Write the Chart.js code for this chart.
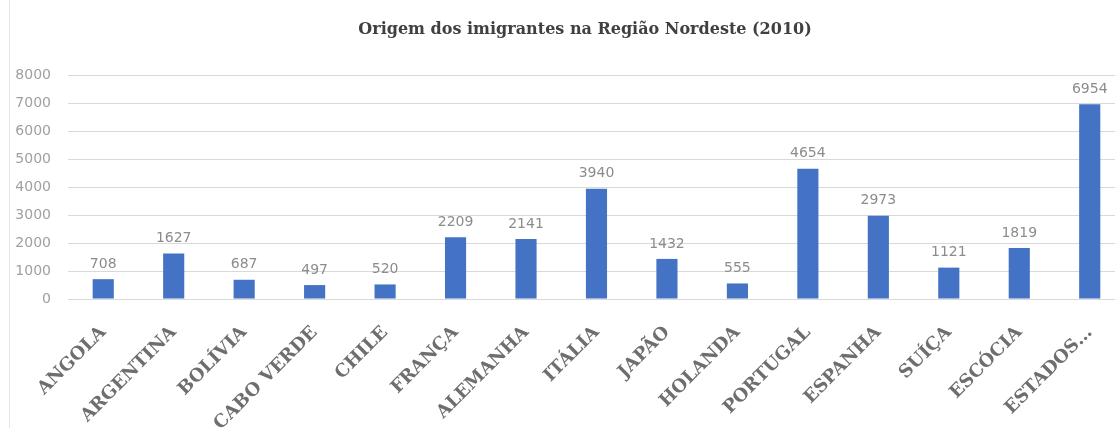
<!DOCTYPE html>
<html><head><meta charset="utf-8">
<script src="https://cdn.jsdelivr.net/npm/chart.js@4/dist/chart.umd.min.js"></script>
<style>
html,body{margin:0;padding:0;background:#fff;overflow:hidden;width:1115px;height:428px;}
#wrap{position:absolute;left:0;top:0;width:1128px;height:428px;}
#edge{position:absolute;left:9px;top:0;width:0;height:428px;border-left:1px solid #e6e6e6;}
</style></head>
<body>
<div id="wrap"><canvas id="c" width="1128" height="428"></canvas></div>
<div id="edge"></div>
<script>
const categories = ["ANGOLA","ARGENTINA","BOLÍVIA","CABO VERDE","CHILE","FRANÇA","ALEMANHA","ITÁLIA","JAPÃO","HOLANDA","PORTUGAL","ESPANHA","SUÍÇA","ESCÓCIA","ESTADOS…"];
const immigrants = [708,1627,687,497,520,2209,2141,3940,1432,555,4654,2973,1121,1819,6954];
const yTicks = [0,1000,2000,3000,4000,5000,6000,7000,8000];
const chartTitle = "Origem dos imigrantes na Região Nordeste (2010)";

const valueLabels = {
  id:'valueLabels',
  afterDatasetsDraw(chart){
    const ctx = chart.ctx;
    const meta = chart.getDatasetMeta(0);
    const data = chart.data.datasets[0].data;
    ctx.save();
    ctx.font = '14px "DejaVu Sans"';
    ctx.fillStyle = '#8c8c8c';
    ctx.textAlign = 'center';
    ctx.textBaseline = 'bottom';
    meta.data.forEach((el,i)=>{ ctx.fillText(String(data[i]), el.x, el.y - 8); });
    ctx.restore();
  }
};

const titleText = {
  id:'titleText',
  afterDraw(chart){
    const ctx = chart.ctx;
    ctx.save();
    ctx.font = 'bold 16px "DejaVu Serif"';
    ctx.fillStyle = '#404040';
    ctx.textAlign = 'center';
    ctx.textBaseline = 'middle';
    ctx.fillText(chartTitle, 585, 30);
    ctx.restore();
  }
};

new Chart(document.getElementById('c'), {
  type:'bar',
  data:{ labels:categories, datasets:[{ data:immigrants, backgroundColor:'#4472C4', barPercentage:0.3, categoryPercentage:1.0 }]},
  options:{
    responsive:false, animation:false,
    layout:{ padding:{left:8,right:0,top:75,bottom:0} },
    plugins:{ legend:{display:false}, tooltip:{enabled:false}, title:{display:false} },
    scales:{
      x:{
        grid:{display:false, drawTicks:false},
        border:{display:true,color:'#d9d9d9'},
        ticks:{ autoSkip:false, minRotation:45, maxRotation:45, padding:23, color:'#6e6e6e',
          font:{family:'"DejaVu Serif"', size:18, weight:'bold'} },
        afterFit(s){ s.height = 129; }
      },
      y:{
        min:0, max:8000,
        afterBuildTicks(s){ s.ticks = yTicks.map(v=>({value:v})); },
        grid:{ color:'#d9d9d9', drawTicks:false },
        border:{display:false},
        ticks:{ padding:17, color:'#a0a0a0', font:{family:'"DejaVu Sans"', size:14},
          callback:(v)=>String(v) },
        afterFit(s){ s.width = 60; }
      }
    }
  },
  plugins:[valueLabels, titleText]
});
</script>
</body></html>
